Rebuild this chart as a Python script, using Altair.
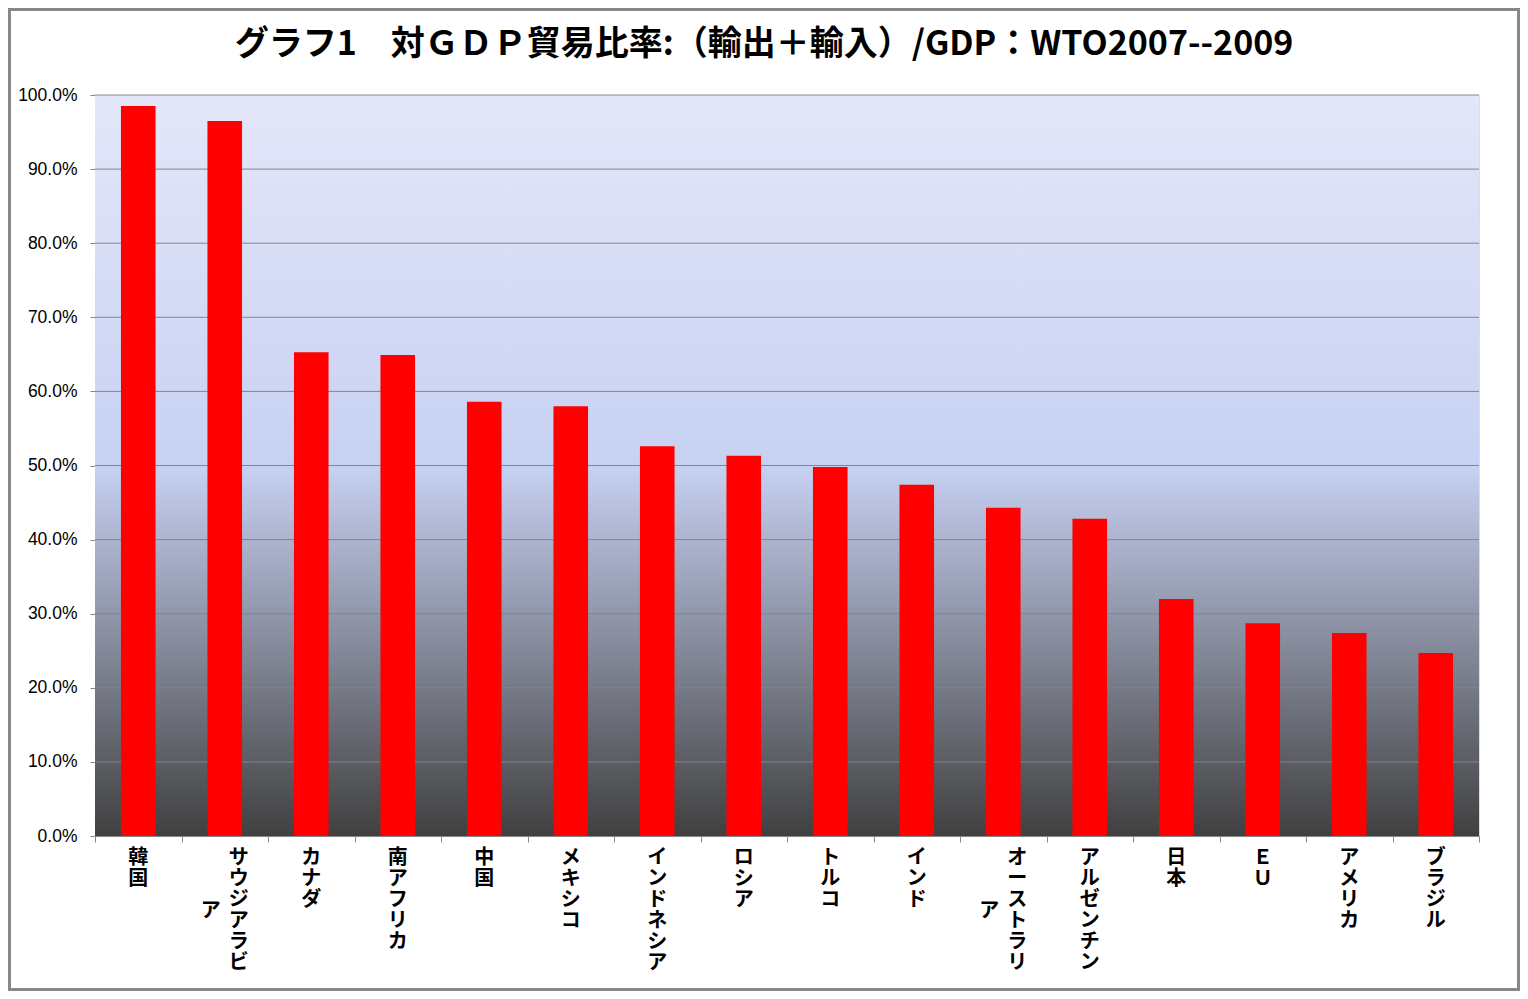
import altair as alt
import pandas as pd

# ---- data ----
categories = ["韓国", "サウジアラビア", "カナダ", "南アフリカ", "中国", "メキシコ",
              "インドネシア", "ロシア", "トルコ", "インド", "オーストラリア",
              "アルゼンチン", "日本", "ＥＵ", "アメリカ", "ブラジル"]
values = [0.985, 0.965, 0.653, 0.649, 0.586, 0.580, 0.526, 0.513,
          0.498, 0.474, 0.443, 0.428, 0.320, 0.287, 0.274, 0.247]
y_ticks = [0.0, 0.1, 0.2, 0.3, 0.4, 0.5, 0.6, 0.7, 0.8, 0.9, 1.0]
title_text = "グラフ1　対ＧＤＰ貿易比率:（輸出＋輸入）/GDP：WTO2007--2009"

MAX_CHARS = 6  # characters per vertical label column
rows = []
for i, (c, v) in enumerate(zip(categories, values)):
    c1, c2 = c[:MAX_CHARS], c[MAX_CHARS:]
    rows.append({"idx": i, "cat": c, "value": v,
                 "col1": "\n".join(c1), "col2": "\n".join(c2),
                 "ncol": 2 if c2 else 1})
df = pd.DataFrame(rows)
ticks_df = pd.DataFrame({"t": y_ticks})
one = pd.DataFrame({"title": [title_text]})

W, H = 1384, 741
N = len(categories)
GRID = "#868686"
JP = "Noto Sans CJK JP"
LH = 21

xscale = alt.Scale(domain=[0, N], nice=False, zero=False)
yscale = alt.Scale(domain=[0, 1], nice=False)

yaxis = alt.Axis(values=y_ticks, format=".1%", grid=False, domain=False,
                 ticks=True, tickSize=5, tickColor=GRID,
                 labelFont="Liberation Sans", labelFontSize=17.5,
                 labelColor="#000000", labelPadding=13, title=None)
xaxis = alt.Axis(values=list(range(N + 1)), labels=False, grid=False,
                 ticks=True, tickSize=6, tickColor=GRID,
                 domain=True, domainColor=GRID, title=None)

grad = alt.Gradient(
    gradient="linear", x1=0, x2=0, y1=0, y2=1,
    stops=[alt.GradientStop(color="#E4E7F9", offset=0),
           alt.GradientStop(color="#C7D1F2", offset=0.5),
           alt.GradientStop(color="#404040", offset=1)])

bg = alt.Chart(one).mark_rect(fill=grad).encode(
    x=alt.value(0), x2=alt.value(W), y=alt.value(0), y2=alt.value(H))

grid = alt.Chart(ticks_df).transform_filter("datum.t > 0").mark_rule(
    color=GRID, strokeWidth=1).encode(
    y=alt.Y("t:Q", scale=yscale, axis=yaxis))

bars = alt.Chart(df).transform_calculate(
    x0="datum.idx + 0.3", x1="datum.idx + 0.7"
).mark_bar(color="#FF0000").encode(
    x=alt.X("x0:Q", scale=xscale, axis=xaxis),
    x2="x1:Q",
    y=alt.Y("value:Q", scale=yscale, axis=yaxis),
    y2=alt.datum(0),
)

lab_common = dict(font=JP, fontWeight="bold", fontSize=20, lineBreak="\n",
                  lineHeight=LH, baseline="top", align="center", color="#000000")
lab_base = alt.Chart(df).transform_calculate(xc="datum.idx + 0.5")

lab_single = lab_base.transform_filter("datum.ncol == 1").mark_text(**lab_common).encode(
    x=alt.X("xc:Q", scale=xscale, axis=xaxis), y=alt.value(H + 12), text="col1:N")
lab_first = lab_base.transform_filter("datum.ncol == 2").mark_text(dx=14, **lab_common).encode(
    x=alt.X("xc:Q", scale=xscale, axis=xaxis), y=alt.value(H + 12), text="col1:N")
lab_second = lab_base.transform_filter("datum.ncol == 2").mark_text(
    dx=-14, dy=(MAX_CHARS - 1) * LH / 2, **lab_common).encode(
    x=alt.X("xc:Q", scale=xscale, axis=xaxis), y=alt.value(H + 12), text="col2:N")

title = alt.Chart(one).mark_text(font=JP, fontWeight="bold", fontSize=34,
                                 align="center", baseline="alphabetic",
                                 color="#000000").encode(
    x=alt.value(669), y=alt.value(-40), text="title:N")

border = alt.Chart(one).mark_rect(fillOpacity=0, stroke="#878787", strokeWidth=3).encode(
    x=alt.value(-85.5), x2=alt.value(W + 39.5), y=alt.value(-85.5), y2=alt.value(H + 153.5))

chart = alt.layer(bg, grid, bars, lab_single, lab_first, lab_second, title, border).properties(
    width=W, height=H,
    autosize="none",
    padding={"left": 87, "top": 87, "right": 41, "bottom": 155},
).configure_view(stroke=None).configure(background="#FFFFFF")

chart.save("out.html", embed_options={"renderer": "svg", "actions": False})
